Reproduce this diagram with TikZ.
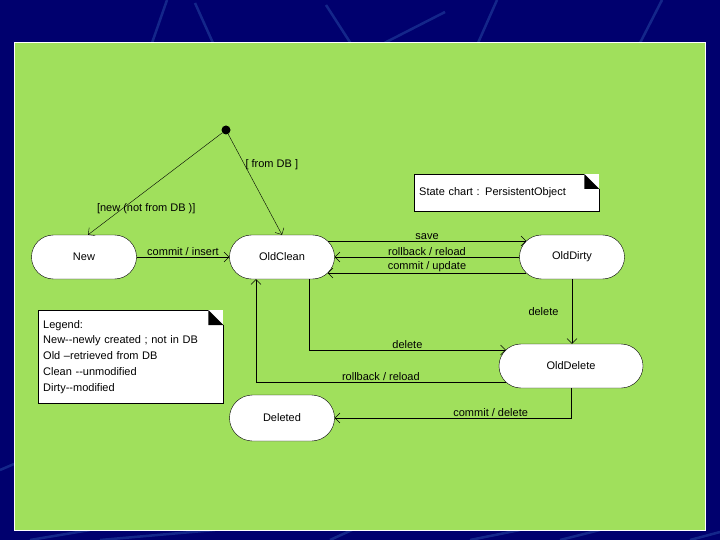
\documentclass[tikz,border=0pt]{standalone}
\usepackage{fontspec}
\setsansfont{Liberation Sans}
\usepackage[dvipsnames]{xcolor}
\usetikzlibrary{shapes}
\usetikzlibrary{arrows.meta}
\tikzstyle{every picture}+=[font=\sffamily\fontsize{11}{13}\selectfont]

\begin{document}
\begin{tikzpicture}[x=1pt, y=-1pt,
    state/.style={draw, fill=white, rounded corners=22pt,
      minimum width=105pt, minimum height=44pt, inner sep=0pt},
    trans/.style={draw, -{Straight Barb[length=5pt, width=10pt]}},
    lbl/.style={inner sep=1pt},
    note/.style={fill=white, inner sep=5pt, text width=175pt, align=left,
      anchor=north west}]

\definecolor{slideblue}{HTML}{00006E}
\definecolor{slidestreak}{HTML}{3A6FC0}
\definecolor{slidegreen}{HTML}{A0E05C}

%% slide background
\fill[slideblue] (0,0) rectangle (720,540);
\useasboundingbox (0,0) rectangle (720,540);
\foreach \xa/\ya/\xb/\yb in {167/0/152/43, 195/3/213/43, 326/5/355/50,
    355/58/445/12, 497/0/478/43, 662/0/640/43, 30/540/90/530,
    100/540/215/530, 330/540/352/530, 470/540/520/530, 560/540/600/530,
    690/540/720/532, 0/470/14/464}
  \draw[slidestreak, opacity=0.35, line width=2.5pt] (\xa,\ya) -- (\xb,\yb);

%% panel
\fill[slidegreen, draw=white, line width=1pt] (14,43) rectangle (705,530);

%% states
\node[state] (new) at (84,257) {New};
\node[state] (oldclean) at (282,257) {OldClean};
\node[state] (olddirty) at (572,257) {OldDirty};
\node[state, minimum width=144pt] (olddelete) at (571,366) {OldDelete};
\node[state, minimum height=46pt, rounded corners=23pt] (deleted) at (282,418) {Deleted};

\node[circle, fill=black, inner sep=0pt, minimum size=9pt] (init) at (226,130) {};

%% notes
\node[note, minimum height=37pt] (chartnote) at (414,174) {State chart : PersistentObject};
\node[note, minimum height=93pt,
      font=\sffamily\fontsize{11}{15.75}\selectfont] (legend) at (38,310)
  {Legend:\\
   New-{}-newly created ; not in DB\\
   Old --retrieved from DB\\
   Clean -{}-unmodified\\
   Dirty-{}-modified};

\foreach \n in {chartnote, legend} {
  \draw ([xshift=-15pt]\n.north east) -- (\n.north west) -- (\n.south west)
    -- (\n.south east) -- ([yshift=-15pt]\n.north east);
  \fill ([xshift=-15pt]\n.north east) -- ([xshift=-15pt, yshift=-15pt]\n.north east)
    -- ([yshift=-15pt]\n.north east) -- cycle;
}

%% transitions
\draw[trans] (init) -- ([xshift=4pt]new.north)
  node[pos=0.73, xshift=22pt, yshift=-1pt] {[new (not from DB )]};
\draw[trans] (init) -- (oldclean.north)
  node[pos=0.3, right, lbl] {[ from DB ]};

\draw[trans] (new) -- (oldclean)
  node[midway, above, lbl] {commit / insert};

\draw[trans] ([xshift=-7pt, yshift=16pt]oldclean.east) -- ([xshift=7pt, yshift=16pt]olddirty.west)
  node[midway, above, lbl] {save};
\draw[trans] (olddirty.west) -- (oldclean.east)
  node[midway, above, lbl] {rollback / reload};
\draw[trans] ([xshift=7pt, yshift=-16pt]olddirty.west) -- ([xshift=-7pt, yshift=-16pt]oldclean.east)
  node[midway, above, lbl] {commit / update};

\draw[trans] (olddirty.south) -- (olddirty.south |- olddelete.north)
  node[midway, left=10pt] {delete};
\draw[trans] ([xshift=27pt]oldclean.south) |- ([xshift=7pt, yshift=16pt]olddelete.west)
  node[pos=0.75, above, lbl] {delete};
\draw[trans] ([xshift=7pt, yshift=-16pt]olddelete.west) -| ([xshift=-26pt]oldclean.south)
  node[pos=0.25, above, lbl] {rollback / reload};
\draw[trans] (olddelete.south) |- (deleted.east)
  node[pos=0.67, above, lbl] {commit / delete};

\end{tikzpicture}
\end{document}
